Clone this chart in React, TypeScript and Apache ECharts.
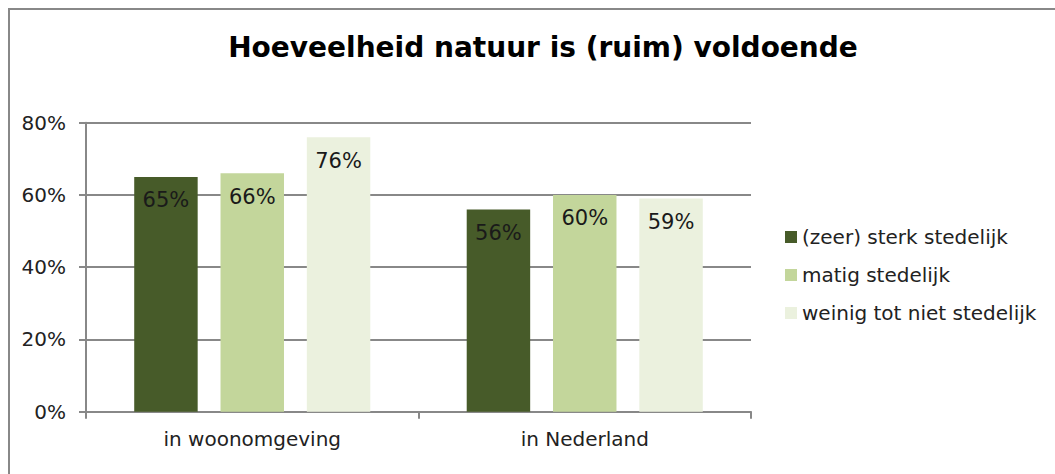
import React, { useEffect, useRef } from "react";
import * as echarts from "echarts";

const categories = ["in woonomgeving", "in Nederland"];
const seriesNames = ["(zeer) sterk stedelijk", "matig stedelijk", "weinig tot niet stedelijk"];
const sterk = [65, 56];
const matig = [66, 60];
const weinig = [76, 59];
const colors = ["#475b29", "#c3d69b", "#ebf1de"];
const yTicks = [0, 20, 40, 60, 80];

const FONT = "'DejaVu Sans', Verdana, sans-serif";

export default function App() {
  const ref = useRef<HTMLDivElement>(null);
  useEffect(() => {
    if (!ref.current) return;
    const chart = echarts.init(ref.current, undefined, { renderer: "svg" });
    const values = [sterk, matig, weinig];
    chart.setOption({
      animation: false,
      backgroundColor: "#ffffff",
      textStyle: { fontFamily: FONT },
      title: {
        text: "Hoeveelheid natuur is (ruim) voldoende",
        left: 538,
        textAlign: "center",
        top: 28,
        textStyle: { fontFamily: FONT, fontSize: 28, fontWeight: "bold", color: "#000000" },
      },
      graphic: [
        {
          type: "rect",
          shape: { x: 9, y: 9, width: 1100, height: 520 },
          style: { fill: "none", stroke: "#888888", lineWidth: 2 },
          silent: true,
        },
      ],
      legend: {
        orient: "vertical",
        left: 785,
        top: 227,
        padding: 0,
        itemWidth: 12,
        itemHeight: 12,
        itemGap: 18,
        icon: "rect",
        textStyle: { fontFamily: FONT, fontSize: 20, color: "#222222", lineHeight: 20 },
        data: seriesNames,
      },
      grid: { left: 86, right: 304, top: 122.7, bottom: 62.3, containLabel: false },
      xAxis: {
        type: "category",
        data: categories,
        axisLine: { lineStyle: { color: "#888888", width: 2 } },
        axisTick: { show: true, length: 7, lineStyle: { color: "#888888", width: 2 } },
        axisLabel: { fontFamily: FONT, fontSize: 20, color: "#222222", margin: 17 },
      },
      yAxis: {
        type: "value",
        min: yTicks[0],
        max: yTicks[yTicks.length - 1],
        interval: 20,
        axisLine: { show: true, lineStyle: { color: "#888888", width: 2 } },
        axisTick: { show: true, length: 7, lineStyle: { color: "#888888", width: 2 } },
        splitLine: { show: true, lineStyle: { color: "#888888", width: 2 } },
        axisLabel: {
          fontFamily: FONT,
          fontSize: 20,
          color: "#222222",
          margin: 20,
          formatter: (v: number) => `${v}%`,
        },
      },
      series: seriesNames.map((name, i) => ({
        name,
        type: "bar",
        data: values[i],
        barGap: "36%",
        barCategoryGap: "29%",
        itemStyle: { color: colors[i] },
        label: {
          show: true,
          position: "insideTop",
          distance: 13,
          formatter: (p: any) => `${p.value}%`,
          fontFamily: FONT,
          fontSize: 21,
          color: "#1a1a1a",
        },
      })),
    });
    return () => chart.dispose();
  }, []);
  return (
    <div
      ref={ref}
      style={{ position: "fixed", left: 0, top: 0, width: 1055, height: 474 }}
    />
  );
}
